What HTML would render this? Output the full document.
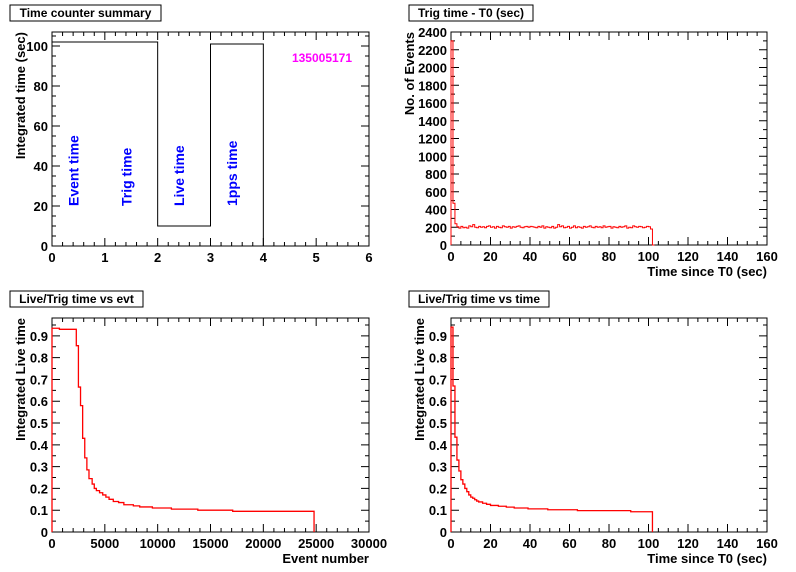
<!DOCTYPE html>
<html><head><meta charset="utf-8">
<style>
body{margin:0;background:#fff;}
svg{display:block;font-family:"Liberation Sans",Arial,sans-serif;}
</style></head>
<body>
<svg id="c" width="796" height="572" viewBox="0 0 796 572" xmlns="http://www.w3.org/2000/svg"></svg>
<script>
// ---- data ----
const summaryCategories = [0, 1, 2, 3];
const summaryValues = [102, 102, 10, 101];
const summaryLabels = ["Event time", "Trig time", "Live time", "1pps time"];
const trigBinWidth = 1;
const trigCounts = [2300,470,240,205,190,210,195,200,190,215,205,230,200,195,210,200,205,195,210,215,
 200,205,190,210,200,195,215,205,200,210,190,205,200,210,215,200,195,205,210,200,
 210,205,200,195,210,200,215,190,205,200,195,210,190,200,230,205,215,195,200,210,
 190,200,215,195,205,200,190,210,200,205,215,200,195,210,200,205,195,215,200,205,
 210,190,205,200,195,210,200,205,215,190,200,195,215,205,200,210,205,195,200,210,
 205,180,0];
const evtEdges = [0,700,2300,2500,2700,2900,3100,3300,3500,3800,4000,4200,4500,4800,5100,5400,5800,6300,6800,7700,8300,9500,11300,13800,17100,24800];
const evtValues = [0.935,0.93,0.855,0.665,0.58,0.43,0.34,0.285,0.245,0.22,0.2,0.19,0.18,0.17,0.16,0.15,0.14,0.135,0.125,0.12,0.115,0.11,0.105,0.1,0.095];
const timeEdges = [0,1,2,3,4,5,6,7,8,9,10,11,12,13,14,16,18,20,24,28,32,39,49,64,91,102];
const timeValues = [0.94,0.67,0.435,0.33,0.28,0.24,0.22,0.2,0.185,0.17,0.16,0.155,0.148,0.142,0.138,0.132,0.127,0.122,0.118,0.114,0.11,0.106,0.102,0.098,0.093];

const NS="http://www.w3.org/2000/svg";
const svg=document.getElementById('c');
function mk(tag,attrs,parent){const e=document.createElementNS(NS,tag);for(const k in attrs)e.setAttribute(k,attrs[k]);(parent||svg).appendChild(e);return e;}

function panel(o){
  const g=mk('g',{});
  
  
  const sx=v=>o.x0+(v-o.xmin)/(o.xmax-o.xmin)*(o.x1-o.x0);
  const sy=v=>o.y0-(v-o.ymin)/(o.ymax-o.ymin)*(o.y0-o.y1);
  // title box
  const tb=mk('rect',{x:o.tx,y:o.ty,width:o.tw,height:16,fill:'#fff',stroke:'#000','stroke-width':1},g);
  
  
  const tt=mk('text',{x:o.tx+o.tw/2,y:o.ty+12,'text-anchor':'middle','font-size':'12','font-weight':'bold'},g);
  tt.textContent=o.title;
  
  
  // frame
  const fr=mk('rect',{x:o.x0,y:o.y1,width:o.x1-o.x0,height:o.y0-o.y1,fill:'none',stroke:'#000','stroke-width':1},g);
  
  
  let d='';
  const nx=o.xTicks.length-1;
  for(let i=0;i<o.xTicks.length;i++){
    const X=sx(o.xTicks[i]);
    d+=`M${X} ${o.y0}v-8M${X} ${o.y1}v8`;
    const t=mk('text',{x:X,y:o.y0+16,'text-anchor':'middle','font-size':'13','font-weight':'bold'},g);
    t.textContent=o.xTickLabels[i];
    
    
    if(i<nx){const step=(o.xTicks[i+1]-o.xTicks[i])/o.xMinor;for(let k=1;k<o.xMinor;k++){const Xm=sx(o.xTicks[i]+k*step);d+=`M${Xm} ${o.y0}v-4M${Xm} ${o.y1}v4`;}}
  }
  for(let i=0;i<o.yTicks.length;i++){
    const Y=sy(o.yTicks[i]);
    d+=`M${o.x0} ${Y}h8M${o.x1} ${Y}h-8`;
    const t=mk('text',{x:o.x0-4,y:Y+5,'text-anchor':'end','font-size':'13','font-weight':'bold'},g);
    t.textContent=o.yTickLabels[i];
    
    
    const step=(i<o.yTicks.length-1)?(o.yTicks[i+1]-o.yTicks[i]):(o.yTicks[1]-o.yTicks[0]);
    for(let k=1;k<o.yMinor;k++){const v=o.yTicks[i]+k*step/o.yMinor;if(v<o.ymax){const Ym=sy(v);d+=`M${o.x0} ${Ym}h4M${o.x1} ${Ym}h-4`;}}
  }
  const tk=mk('path',{d:d,stroke:'#000','stroke-width':1,fill:'none'},g);
  
  
  const yt=mk('text',{transform:`translate(${o.yTitleX},${o.y1}) rotate(-90)`,'text-anchor':'end','font-size':'13','font-weight':'bold'},g);
  yt.textContent=o.yTitle;
  
  
  if(o.xTitle){const xt=mk('text',{x:o.x1,y:o.y0+31,'text-anchor':'end','font-size':'13','font-weight':'bold'},g);
    xt.textContent=o.xTitle;
    
    }
  let p=`M${sx(o.edges[0])} ${sy(0)}`;
  for(let i=0;i<o.values.length;i++){p+=`L${sx(o.edges[i])} ${sy(o.values[i])}L${sx(o.edges[i+1])} ${sy(o.values[i])}`;}
  p+=`L${sx(o.edges[o.values.length])} ${sy(0)}`;
  const h=mk('path',{d:p,stroke:o.color,'stroke-width':o.lw||1,fill:'none'},g);
  
  
  return {g,sx,sy};
}

const p1=panel({name:'time-counter-summary-panel',title:'Time counter summary',tx:10,ty:5,tw:151,x0:52,x1:369,y0:246,y1:32,xmin:0,xmax:6,ymin:0,ymax:107,
 xTicks:[0,1,2,3,4,5,6],xTickLabels:['0','1','2','3','4','5','6'],xMinor:5,
 yTicks:[0,20,40,60,80,100],yTickLabels:['0','20','40','60','80','100'],yMinor:4,
 yTitle:'Integrated time (sec)',yTitleX:25,xTitle:'',
 edges:summaryCategories.concat([summaryCategories[summaryCategories.length-1]+1]),values:summaryValues,color:'#000'});
summaryLabels.forEach((s,i)=>{
  const X=p1.sx(summaryCategories[i]+0.5);
  const t=mk('text',{transform:`translate(${X},${p1.sy(20)}) rotate(-90)`,'font-size':'14','font-weight':'bold',fill:'#0000ff'},p1.g);
  t.textContent=s;
  
  
});
const run=mk('text',{x:322,y:62,'text-anchor':'middle','font-size':'12','font-weight':'bold',fill:'#ff00ff'},p1.g);
run.textContent='135005171';



const trigEdges=trigCounts.map((_,i)=>i*trigBinWidth).concat([trigCounts.length*trigBinWidth]);
panel({name:'trig-time-panel',title:'Trig time - T0 (sec)',tx:409,ty:5,tw:124,x0:451,x1:767,y0:245,y1:32,xmin:0,xmax:160,ymin:0,ymax:2400,
 xTicks:[0,20,40,60,80,100,120,140,160],xTickLabels:['0','20','40','60','80','100','120','140','160'],xMinor:4,
 yTicks:[0,200,400,600,800,1000,1200,1400,1600,1800,2000,2200,2400],yTickLabels:['0','200','400','600','800','1000','1200','1400','1600','1800','2000','2200','2400'],yMinor:2,
 yTitle:'No. of Events',yTitleX:414,xTitle:'Time since T0 (sec)',
 edges:trigEdges,values:trigCounts,color:'#ff0000'});

const lt=[0,0.1,0.2,0.3,0.4,0.5,0.6,0.7,0.8,0.9];
const ltl=['0','0.1','0.2','0.3','0.4','0.5','0.6','0.7','0.8','0.9'];
panel({name:'live-trig-vs-evt-panel',title:'Live/Trig time vs evt',tx:10,ty:291,tw:133,x0:52,x1:369,y0:532,y1:318,xmin:0,xmax:30000,ymin:0,ymax:0.982,
 xTicks:[0,5000,10000,15000,20000,25000,30000],xTickLabels:['0','5000','10000','15000','20000','25000','30000'],xMinor:5,
 yTicks:lt,yTickLabels:ltl,yMinor:2,
 yTitle:'Integrated Live time',yTitleX:25,xTitle:'Event number',
 edges:evtEdges,values:evtValues,color:'#ff0000',lw:1.3});

panel({name:'live-trig-vs-time-panel',title:'Live/Trig time vs time',tx:409,ty:291,tw:140,x0:451,x1:767,y0:532,y1:318,xmin:0,xmax:160,ymin:0,ymax:0.982,
 xTicks:[0,20,40,60,80,100,120,140,160],xTickLabels:['0','20','40','60','80','100','120','140','160'],xMinor:4,
 yTicks:lt,yTickLabels:ltl,yMinor:2,
 yTitle:'Integrated Live time',yTitleX:424,xTitle:'Time since T0 (sec)',
 edges:timeEdges,values:timeValues,color:'#ff0000',lw:1.3});
</script>
</body></html>
